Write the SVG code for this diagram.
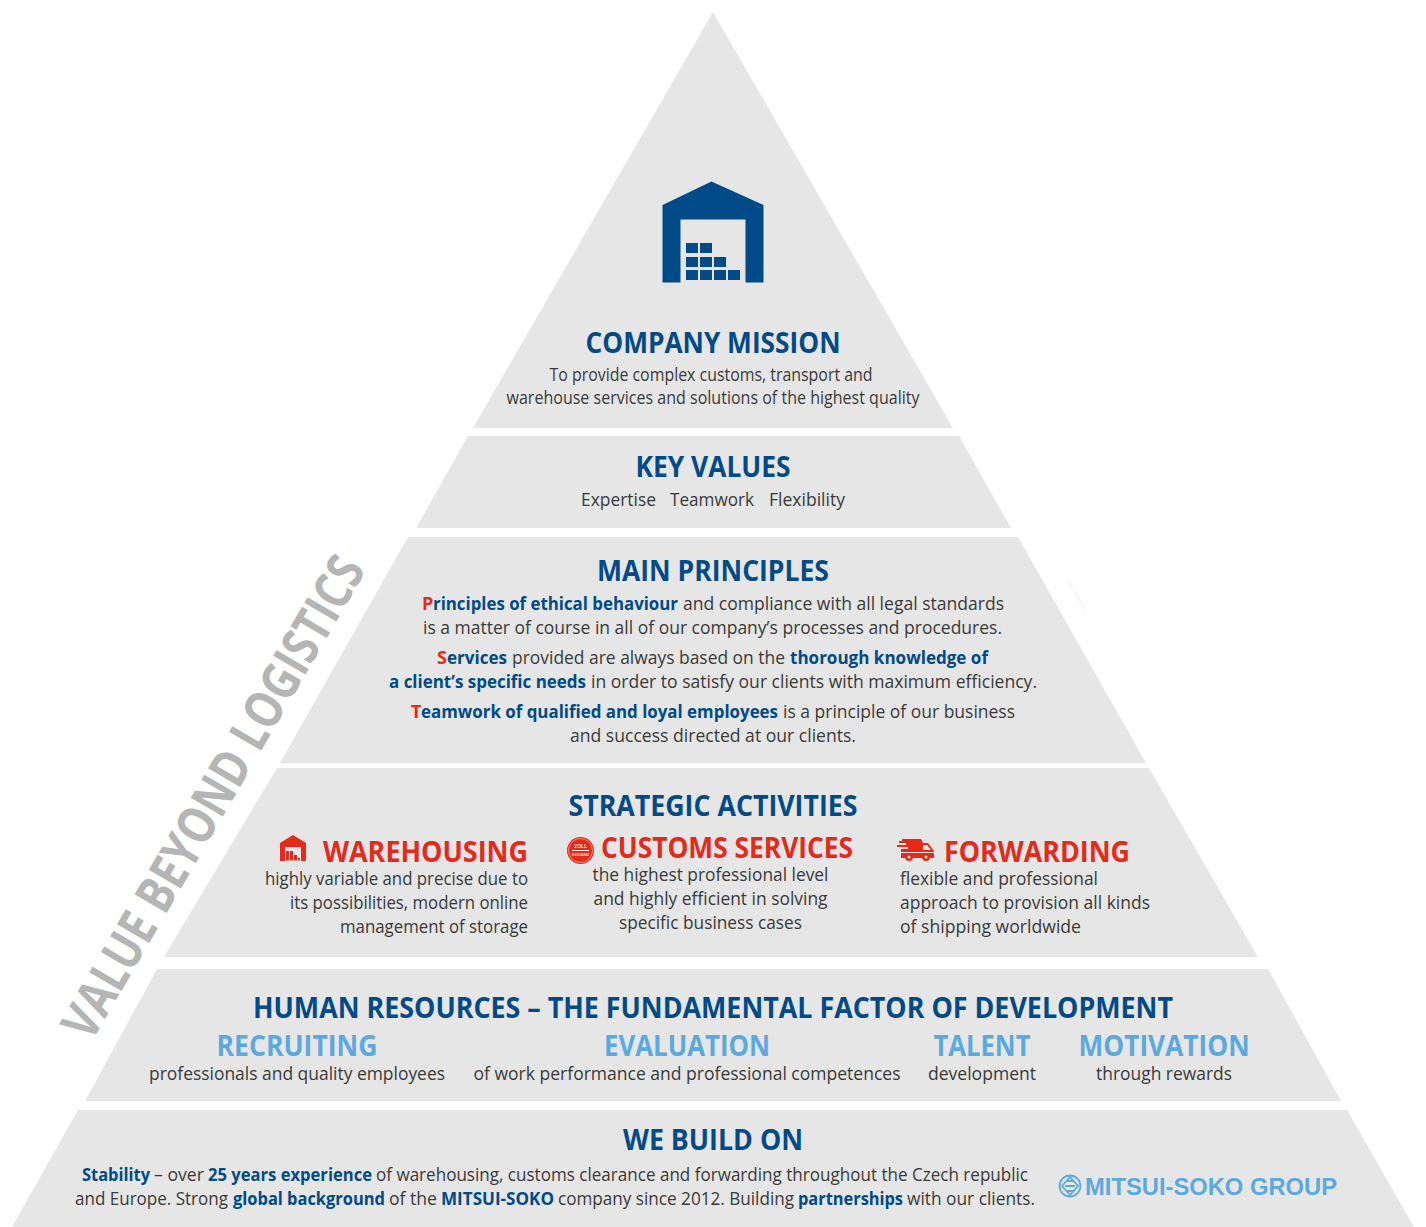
<svg xmlns="http://www.w3.org/2000/svg" width="1426" height="1227" viewBox="0 0 1426 1227">
<style>
text{font-family:"Open Sans","Noto Sans",sans-serif}
.lv{fill:#e6e6e6}
.h{font-size:28px;font-weight:700;fill:#004a87;text-anchor:middle}
.r{font-size:28px;font-weight:700;fill:#e42a1a}
.l{font-size:28px;font-weight:700;fill:#5aa9df;text-anchor:middle}
.t{font-size:18px;fill:#3a3a3a}
.m{text-anchor:middle}
.e{text-anchor:end}
.b{font-weight:700;fill:#004a87}
.x{font-weight:700;fill:#e42a1a}
.ic{fill:#004a87}
.ir{fill:#e42a1a}
</style>
<rect width="1426" height="1227" fill="#fff"/>
<g id="mission">
<polygon class="lv" points="713,12 953,428 473,428"/>
<path class="ic" d="M662.500 205 L711.500 181.500 L763.500 205 V282.500 H745.500 V219.500 H680.500 V282.500 H662.500 Z"/>
<g class="ic"><rect x="686" y="243" width="12" height="10"/><rect x="700" y="243" width="12" height="10"/><rect x="686" y="257" width="12" height="10"/><rect x="700" y="257" width="12" height="10"/><rect x="714" y="257" width="12" height="10"/><rect x="686" y="270" width="12" height="10"/><rect x="700" y="270" width="12" height="10"/><rect x="714" y="270" width="12" height="10"/><rect x="728" y="270" width="12" height="10"/></g>
<text class="h" x="713" y="352.600" textLength="255" lengthAdjust="spacingAndGlyphs">COMPANY MISSION</text>
<text class="t m" x="711" y="381" textLength="323" lengthAdjust="spacingAndGlyphs">To provide complex customs, transport and</text>
<text class="t m" x="713" y="404" textLength="413" lengthAdjust="spacingAndGlyphs">warehouse services and solutions of the highest quality</text>
</g>
<g id="key-values">
<polygon class="lv" points="468,436 959,436 1011,528 416,528"/>
<text class="h" x="713" y="476.600" textLength="155" lengthAdjust="spacingAndGlyphs">KEY VALUES</text>
<text class="t" x="581" y="506" textLength="75" lengthAdjust="spacingAndGlyphs">Expertise</text>
<text class="t" x="670" y="506" textLength="84" lengthAdjust="spacingAndGlyphs">Teamwork</text>
<text class="t" x="769" y="506" textLength="76" lengthAdjust="spacingAndGlyphs">Flexibility</text>
</g>
<g id="main-principles">
<polygon class="lv" points="408,537 1018,537 1146,763 280,763"/>
<text class="h" x="713" y="580.600" textLength="232" lengthAdjust="spacingAndGlyphs">MAIN PRINCIPLES</text>
<text class="t" y="610"><tspan class="x" x="422">P</tspan><tspan class="b" x="433" textLength="245" lengthAdjust="spacingAndGlyphs">rinciples of ethical behaviour</tspan><tspan x="683" textLength="321" lengthAdjust="spacingAndGlyphs">and compliance with all legal standards</tspan></text>
<text class="t" x="423" y="634" textLength="579" lengthAdjust="spacingAndGlyphs">is a matter of course in all of our company’s processes and procedures.</text>
<text class="t" y="664"><tspan class="x" x="437">S</tspan><tspan class="b" x="447" textLength="60" lengthAdjust="spacingAndGlyphs">ervices</tspan><tspan x="512" textLength="273" lengthAdjust="spacingAndGlyphs">provided are always based on the</tspan><tspan class="b" x="790" textLength="198" lengthAdjust="spacingAndGlyphs">thorough knowledge of</tspan></text>
<text class="t" y="688"><tspan class="b" x="389" textLength="197" lengthAdjust="spacingAndGlyphs">a client’s specific needs</tspan><tspan x="591" textLength="446" lengthAdjust="spacingAndGlyphs">in order to satisfy our clients with maximum efficiency.</tspan></text>
<text class="t" y="718"><tspan class="x" x="411">T</tspan><tspan class="b" x="421" textLength="357" lengthAdjust="spacingAndGlyphs">eamwork of qualified and loyal employees</tspan><tspan x="783" textLength="232" lengthAdjust="spacingAndGlyphs">is a principle of our business</tspan></text>
<text class="t" x="570" y="742" textLength="286" lengthAdjust="spacingAndGlyphs">and success directed at our clients.</text>
</g>
<g id="strategic-activities">
<polygon class="lv" points="277,768 1149,768 1258,957 164,957"/>
<text class="h" x="713" y="815.600" textLength="289" lengthAdjust="spacingAndGlyphs">STRATEGIC ACTIVITIES</text>
<path class="ir" d="M280 843 L293 835 L306 843 V861 H301 V847 H285 V861 H280 Z"/>
<g class="ir"><rect x="286" y="851" width="3" height="9.500"/><rect x="290" y="851" width="3" height="9.500"/><rect x="294" y="855" width="3" height="5.500"/><rect x="298" y="858" width="2" height="2.500"/></g>
<text class="r" x="323" y="861.600" textLength="205" lengthAdjust="spacingAndGlyphs">WAREHOUSING</text>
<text class="t e" x="528" y="885" textLength="263" lengthAdjust="spacingAndGlyphs">highly variable and precise due to</text>
<text class="t e" x="528" y="909" textLength="238" lengthAdjust="spacingAndGlyphs">its possibilities, modern online</text>
<text class="t e" x="528" y="933" textLength="188" lengthAdjust="spacingAndGlyphs">management of storage</text>
<circle class="ir" cx="580.500" cy="850.500" r="13.500"/>
<circle cx="580.500" cy="850.500" r="12" fill="none" stroke="#f6b5ae" stroke-width="0.700"/>
<rect x="572" y="850" width="17" height="1" fill="#fff"/>
<text x="580.500" y="848" font-size="5" font-weight="700" fill="#fbdcd8" text-anchor="middle">ZOLL</text>
<text x="580.500" y="856" font-size="4" font-weight="700" fill="#fbdcd8" text-anchor="middle">DOUANE</text>
<text class="r" x="601" y="857.600" textLength="252" lengthAdjust="spacingAndGlyphs">CUSTOMS SERVICES</text>
<text class="t m" x="710.500" y="881" textLength="236" lengthAdjust="spacingAndGlyphs">the highest professional level</text>
<text class="t m" x="710.500" y="905" textLength="234" lengthAdjust="spacingAndGlyphs">and highly efficient in solving</text>
<text class="t m" x="710.500" y="929" textLength="183" lengthAdjust="spacingAndGlyphs">specific business cases</text>
<path class="ir" d="M902 839 H921 L923 843 H928 L934 851 V858 H901 V849 H908 V847 H897 V845 H906 V843 H899 V841 H902 Z"/>
<path d="M923 845 H927 L931 850 H923 Z" fill="#e6e6e6"/>
<rect x="901" y="852" width="33" height="1" fill="#e6e6e6"/>
<circle class="ir" cx="909" cy="857" r="4"/><circle cx="909" cy="857" r="1.500" fill="#e6e6e6"/>
<circle class="ir" cx="926" cy="857" r="4"/><circle cx="926" cy="857" r="1.500" fill="#e6e6e6"/>
<text class="r" x="944" y="861.600" textLength="186" lengthAdjust="spacingAndGlyphs">FORWARDING</text>
<text class="t" x="900" y="885" textLength="198" lengthAdjust="spacingAndGlyphs">flexible and professional</text>
<text class="t" x="900" y="909" textLength="250" lengthAdjust="spacingAndGlyphs">approach to provision all kinds</text>
<text class="t" x="900" y="933" textLength="181" lengthAdjust="spacingAndGlyphs">of shipping worldwide</text>
</g>
<g id="human-resources">
<polygon class="lv" points="157,969 1268,969 1341,1101 85,1101"/>
<text class="h" x="713" y="1017.600" textLength="920" lengthAdjust="spacingAndGlyphs">HUMAN RESOURCES – THE FUNDAMENTAL FACTOR OF DEVELOPMENT</text>
<text class="l" x="297" y="1055.600" textLength="161" lengthAdjust="spacingAndGlyphs">RECRUITING</text>
<text class="t m" x="297" y="1080" textLength="296" lengthAdjust="spacingAndGlyphs">professionals and quality employees</text>
<text class="l" x="687" y="1055.600" textLength="166" lengthAdjust="spacingAndGlyphs">EVALUATION</text>
<text class="t m" x="687" y="1080" textLength="427" lengthAdjust="spacingAndGlyphs">of work performance and professional competences</text>
<text class="l" x="982" y="1055.600" textLength="97" lengthAdjust="spacingAndGlyphs">TALENT</text>
<text class="t m" x="982" y="1080" textLength="108" lengthAdjust="spacingAndGlyphs">development</text>
<text class="l" x="1164" y="1055.600" textLength="171" lengthAdjust="spacingAndGlyphs">MOTIVATION</text>
<text class="t m" x="1164" y="1080" textLength="136" lengthAdjust="spacingAndGlyphs">through rewards</text>
</g>
<g id="we-build-on">
<polygon class="lv" points="78,1110 1347,1110 1414,1227 12,1227"/>
<text class="h" x="713" y="1149.600" textLength="180" lengthAdjust="spacingAndGlyphs">WE BUILD ON</text>
<text class="t" y="1181"><tspan class="b" x="82" textLength="68" lengthAdjust="spacingAndGlyphs">Stability</tspan><tspan x="154" textLength="50" lengthAdjust="spacingAndGlyphs">– over</tspan><tspan class="b" x="208" textLength="164" lengthAdjust="spacingAndGlyphs">25 years experience</tspan><tspan x="376" textLength="652" lengthAdjust="spacingAndGlyphs">of warehousing, customs clearance and forwarding throughout the Czech republic</tspan></text>
<text class="t" y="1205"><tspan x="75" textLength="153" lengthAdjust="spacingAndGlyphs">and Europe. Strong</tspan><tspan class="b" x="233" textLength="152" lengthAdjust="spacingAndGlyphs">global background</tspan><tspan x="389" textLength="48" lengthAdjust="spacingAndGlyphs">of the</tspan><tspan class="b" x="441" textLength="113" lengthAdjust="spacingAndGlyphs">MITSUI-SOKO</tspan><tspan x="558" textLength="236" lengthAdjust="spacingAndGlyphs">company since 2012. Building</tspan><tspan class="b" x="798" textLength="105" lengthAdjust="spacingAndGlyphs">partnerships</tspan><tspan x="907" textLength="128" lengthAdjust="spacingAndGlyphs">with our clients.</tspan></text>
<g fill="none" stroke="#5aa9df" stroke-width="1.800"><circle cx="1070" cy="1186" r="10.500"/><path d="M1070 1177 L1078 1186 L1070 1195 L1062 1186 Z"/><path d="M1065 1186 H1075 M1066 1181 H1074 M1066 1191 H1074"/></g>
<text x="1085" y="1194.500" textLength="252" lengthAdjust="spacingAndGlyphs" font-size="24" font-weight="700" fill="#5aa9df" style="font-family:'Liberation Sans',Arial,sans-serif">MITSUI-SOKO GROUP</text>
</g>
<g id="connectors"></g>
<text x="91" y="1043" transform="rotate(-59.800 91 1043)" textLength="548" lengthAdjust="spacingAndGlyphs" font-size="52" font-weight="700" fill="#b5b5b5">VALUE BEYOND LOGISTICS</text>
<path d="M1068 580 L1085 610" stroke="#efefef" stroke-width="1" fill="none"/>
</svg>
